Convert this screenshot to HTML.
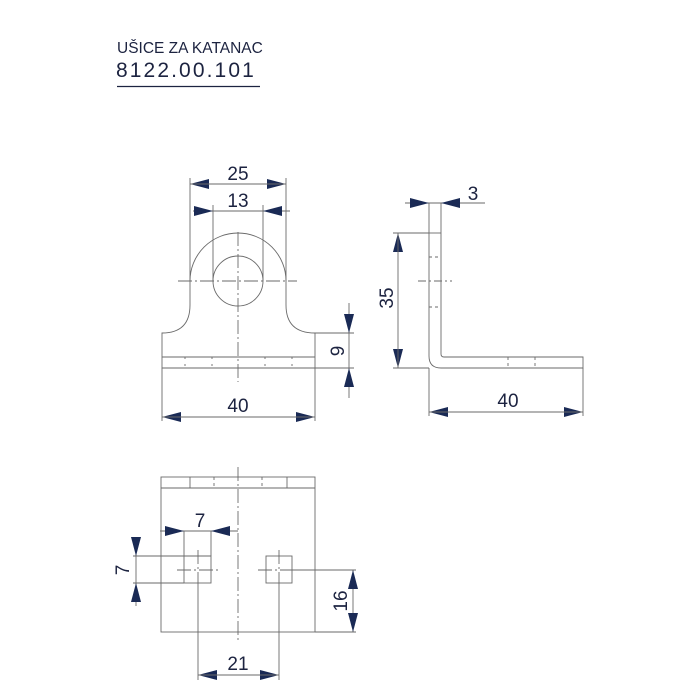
<!DOCTYPE html>
<html><head><meta charset="utf-8"><style>
html,body{margin:0;padding:0;background:#fff;}
svg{display:block;}
text{font-family:"Liberation Sans",sans-serif;fill:#1c2340;}
</style></head><body>
<svg width="700" height="700" viewBox="0 0 700 700" xmlns="http://www.w3.org/2000/svg">
<!-- title -->
<text x="117" y="53" font-size="15.5">UŠICE ZA KATANAC</text>
<text x="116" y="77" font-size="21" letter-spacing="2.1">8122.00.101</text>
<line x1="117" y1="86.5" x2="260" y2="86.5" stroke="#1c2340" stroke-width="1.2"/>

<g fill="none" stroke="#6a6a6a" stroke-width="0.9">
<!-- FRONT VIEW -->
<path d="M162,368 L162,333 Q190,333 190,305 L190,281 A48,48 0 0 1 286,281 L286,305 Q286,333 315,333 L315,368 Z"/>
<line x1="162" y1="357" x2="315" y2="357"/>
<circle cx="238" cy="281" r="25"/>
<g stroke-dasharray="2,5">
<line x1="185" y1="357" x2="185" y2="368"/><line x1="212" y1="357" x2="212" y2="368"/>
<line x1="265" y1="357" x2="265" y2="368"/><line x1="292" y1="357" x2="292" y2="368"/>
</g>
<g stroke-dasharray="14,3,2,3">
<line x1="238" y1="232" x2="238" y2="382"/>
<line x1="178" y1="281" x2="297" y2="281"/>
</g>
<line x1="190" y1="178" x2="190" y2="281"/>
<line x1="286" y1="178" x2="286" y2="281"/>
<line x1="213" y1="205" x2="213" y2="281"/>
<line x1="263" y1="205" x2="263" y2="281"/>
<line x1="162" y1="368" x2="162" y2="421"/>
<line x1="315" y1="368" x2="315" y2="421"/>
<line x1="315" y1="333" x2="354" y2="333"/>
<line x1="315" y1="368" x2="354" y2="368"/>
<line x1="349" y1="303" x2="349" y2="398"/>
<line x1="193" y1="211" x2="290" y2="211"/>

<!-- SIDE VIEW -->
<path d="M429,203 L429,356 Q429,368 441,368 L583,368 L583,357 L444,357 Q441,357 441,354 L441,203"/>
<line x1="429" y1="233" x2="393" y2="233"/>
<line x1="429" y1="368" x2="393" y2="368"/>
<line x1="405" y1="203" x2="485" y2="203"/>
<line x1="429" y1="368" x2="429" y2="416"/>
<line x1="583" y1="368" x2="583" y2="416"/>
<line x1="441" y1="233" x2="429" y2="233"/>
<g stroke-dasharray="3,3">
<line x1="429" y1="257" x2="441" y2="257"/><line x1="429" y1="307" x2="441" y2="307"/>
<line x1="508" y1="357" x2="508" y2="368"/><line x1="535" y1="357" x2="535" y2="368"/>
</g>
<line x1="418" y1="281" x2="452" y2="281" stroke-dasharray="8,3,2,3"/>

<!-- BOTTOM VIEW -->
<rect x="161" y="477" width="154" height="155"/>
<line x1="161" y1="488" x2="315" y2="488"/>
<line x1="190" y1="477" x2="190" y2="488"/><line x1="287" y1="477" x2="287" y2="488"/>
<g stroke-dasharray="3,3"><line x1="214" y1="477" x2="214" y2="488"/><line x1="262" y1="477" x2="262" y2="488"/></g>
<rect x="184" y="556" width="27" height="27"/>
<rect x="266" y="556" width="26" height="27"/>
<g stroke-dasharray="14,3,2,3">
<line x1="238" y1="467" x2="238" y2="643"/>
<line x1="177" y1="570" x2="218" y2="570"/>
<line x1="258" y1="570" x2="300" y2="570"/>
<line x1="198" y1="550" x2="198" y2="583"/>
<line x1="279" y1="550" x2="279" y2="583"/>
</g>
<line x1="198" y1="583" x2="198" y2="680"/>
<line x1="279" y1="583" x2="279" y2="680"/>
<line x1="184" y1="531" x2="184" y2="556"/>
<line x1="211" y1="531" x2="211" y2="556"/>
<line x1="160" y1="531" x2="238" y2="531"/>
<line x1="133" y1="556" x2="211" y2="556"/>
<line x1="133" y1="583" x2="184" y2="583"/>
<line x1="136" y1="538" x2="136" y2="606"/>
<line x1="292" y1="570" x2="356" y2="570"/>
<line x1="315" y1="632" x2="356" y2="632"/>
<line x1="353" y1="570" x2="353" y2="632"/>
</g>

<g stroke="none" fill="#1a2a55">
<path d="M190,184 l19,-5 v10 z"/><path d="M286,184 l-19,-5 v10 z"/>
<path d="M213,211 l-19,-5 v10 z"/><path d="M263,211 l19,-5 v10 z"/>
<path d="M162,417 l19,-5 v10 z"/><path d="M315,417 l-19,-5 v10 z"/>
<path d="M349,333 l-5,-19 h10 z"/><path d="M349,368 l-5,19 h10 z"/>
<path d="M429,203 l-19,-5 v10 z"/><path d="M441,203 l19,-5 v10 z"/>
<path d="M398,233 l-5,19 h10 z"/><path d="M398,368 l-5,-19 h10 z"/>
<path d="M429,412 l19,-5 v10 z"/><path d="M583,412 l-19,-5 v10 z"/>
<path d="M184,531 l-19,-5 v10 z"/><path d="M211,531 l19,-5 v10 z"/>
<path d="M136,556 l-5,-19 h10 z"/><path d="M136,583 l-5,19 h10 z"/>
<path d="M353,570 l-5,19 h10 z"/><path d="M353,632 l-5,-19 h10 z"/>
<path d="M198,675 l19,-5 v10 z"/><path d="M279,675 l-19,-5 v10 z"/>
</g>
<g stroke="#6a6a6a" stroke-width="0.9">
<line x1="190" y1="184" x2="286" y2="184"/>
<line x1="162" y1="417" x2="315" y2="417"/>
<line x1="398" y1="233" x2="398" y2="368"/>
<line x1="429" y1="412" x2="583" y2="412"/>
<line x1="198" y1="675" x2="279" y2="675"/>
</g>

<g font-size="19">
<text x="238" y="180" text-anchor="middle">25</text>
<text x="238" y="207" text-anchor="middle">13</text>
<text x="238" y="412" text-anchor="middle">40</text>
<text x="508" y="407" text-anchor="middle">40</text>
<text x="473" y="200" text-anchor="middle">3</text>
<text x="200" y="527" text-anchor="middle">7</text>
<text x="238" y="670" text-anchor="middle">21</text>
<text transform="translate(344,351) rotate(-90)" text-anchor="middle">9</text>
<text transform="translate(393,298) rotate(-90)" text-anchor="middle">35</text>
<text transform="translate(129,570) rotate(-90)" text-anchor="middle">7</text>
<text transform="translate(347,601) rotate(-90)" text-anchor="middle">16</text>
</g>
</svg>
</body></html>
